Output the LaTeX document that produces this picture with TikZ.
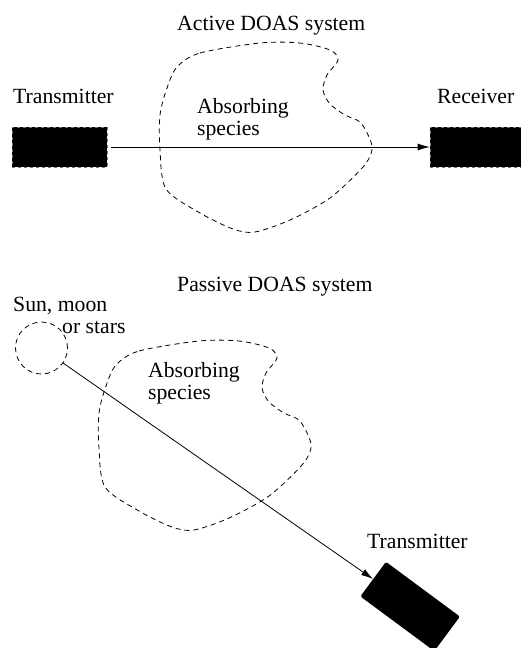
\documentclass[tikz,border=0pt]{standalone}
\usepackage{fontspec}
\setmainfont{Liberation Serif}
\usetikzlibrary{arrows.meta}
\tikzset{
  lbl/.style={anchor=base west, inner sep=0pt, font=\fontsize{21.7}{23}\selectfont},
  devbox/.style={fill=black, draw=black!55, dashed, line width=0.6pt, inner sep=0pt, minimum width=95pt, minimum height=40pt},
  ray/.style={line width=0.8pt, -{Latex[length=12pt,width=7pt]}},
  dashline/.style={line width=0.8pt, dash pattern=on 5pt off 4pt},
  blob/.pic={\draw[dashline] plot[smooth cycle, tension=0.5] coordinates {
    (177,67) (200,53) (260,43) (300,43) (330,50) (338,60) (327,75) (323,90)
    (330,104) (345,115) (360,122) (369,137) (372,150) (363,167) (330,198)
    (290,220) (255,232) (233,229) (200,213) (166,189) (160,150) (160,115) (167,88)};}
}
\begin{document}
\begin{tikzpicture}[x=1pt, y=-1pt]
\useasboundingbox (0,0) rectangle (521,648);
\clip (0,0) rectangle (521,648);
% Active
\node[lbl] (t1) at (177,30) {Active DOAS system};
\node[lbl] (tl) at (13,103) {Transmitter};
\node[lbl] (rl) at (437,103) {Receiver};
\node[lbl] (a1) at (197,113) {Absorbing};
\node[lbl] (s1) at (197,135) {species};
\pic at (0,0) {blob};
\node[devbox] (tx) at (59.5,147) {};
\node[devbox] (rx) at (477.5,147) {};
\draw[ray, shorten <=4pt] (tx.east) -- (rx.west);
% Passive
\node[lbl] (t2) at (177,291) {Passive DOAS system};
\node[lbl] (sm) at (13,311) {Sun, moon};
\node[lbl] (os) at (62,333) {or stars};
\node[lbl] (a2) at (148,377) {Absorbing};
\node[lbl] (s2) at (148,399) {species};
\node[lbl] (tl2) at (367,548) {Transmitter};
\pic at (-61,298) {blob};
\node[circle, draw, dashline, minimum size=52pt, inner sep=0pt] (sun) at (41.5,348) {};
\node[fill=black, rounded corners=1.5pt, inner sep=0pt, minimum width=92pt, minimum height=43pt, rotate=-36.5, anchor=west] (tx2) at (373,579) {};
\draw[ray] (sun) -- (tx2.west);
\end{tikzpicture}
\end{document}
